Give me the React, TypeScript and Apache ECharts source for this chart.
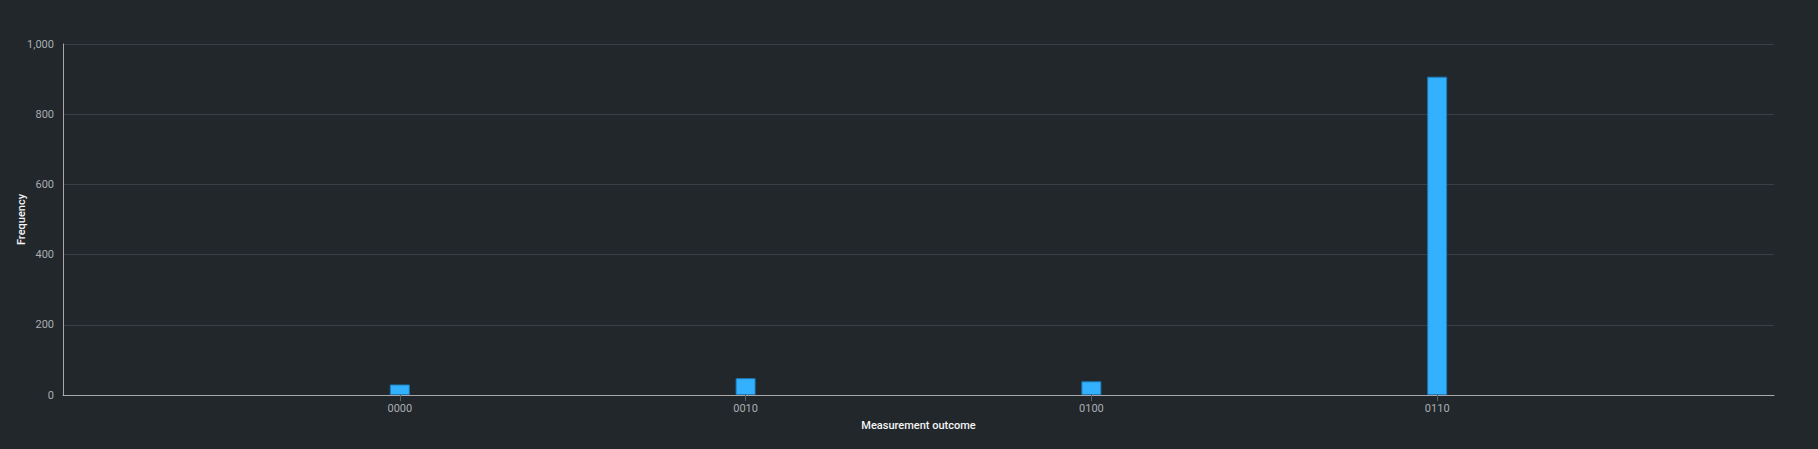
import { useEffect, useRef } from 'react'
import * as echarts from 'echarts'

const outcomes = ['0000', '0010', '0100', '0110']
const counts = [30, 48, 39, 907]
const yTicks = [0, 200, 400, 600, 800, 1000]
// outer padding of the outcome scale, in fractions of one step
const edgePad = 0.974

const THEME = {
  bg: '#22272b',
  grid: '#393f44',
  axis: '#a8a8a8',
  tick: '#5a6066',
  label: '#a8aeb3',
  title: '#f4f4f4',
  bar: '#33b1ff',
  barBorder: '#1d78b5',
}

const FONT = 'Roboto, "Noto Sans", sans-serif'

export default function App() {
  const chartRef = useRef<HTMLDivElement | null>(null)

  useEffect(() => {
    document.body.style.margin = '0'
    document.body.style.background = THEME.bg
    if (!chartRef.current) return
    const chart = echarts.init(chartRef.current, undefined, { renderer: 'svg' })
    const positions = outcomes.map((_, i) => i)

    chart.setOption({
      animation: false,
      backgroundColor: THEME.bg,
      textStyle: { fontFamily: FONT },
      grid: { left: 63, right: 44, top: 44, bottom: 54, outerBoundsMode: 'none' },
      xAxis: {
        type: 'value',
        min: -edgePad,
        max: outcomes.length - 1 + edgePad,
        name: 'Measurement outcome',
        nameLocation: 'middle',
        nameGap: 25,
        nameMoveOverlap: false,
        nameTextStyle: { color: THEME.title, fontSize: 11, fontWeight: 500, fontFamily: FONT },
        axisLine: { onZero: false, lineStyle: { color: THEME.axis, width: 1 } },
        axisTick: {
          show: true,
          length: 6,
          lineStyle: { color: THEME.tick },
          customValues: positions,
        },
        axisLabel: {
          color: THEME.label,
          fontSize: 11,
          margin: 8,
          fontFamily: FONT,
          customValues: positions,
          formatter: (v: number) => outcomes[Math.round(v)] ?? '',
        },
        splitLine: { show: false },
      },
      yAxis: {
        type: 'value',
        min: yTicks[0],
        max: yTicks[yTicks.length - 1],
        interval: yTicks[1] - yTicks[0],
        name: 'Frequency',
        nameLocation: 'middle',
        nameGap: 36,
        nameMoveOverlap: false,
        nameTextStyle: { color: THEME.title, fontSize: 11, fontWeight: 500, fontFamily: FONT },
        axisLine: { show: true, onZero: false, lineStyle: { color: THEME.axis, width: 1 } },
        axisTick: { show: false },
        axisLabel: {
          color: THEME.label,
          fontSize: 11,
          margin: 9,
          fontFamily: FONT,
          formatter: (v: number) => v.toLocaleString('en-US'),
        },
        splitLine: { lineStyle: { color: THEME.grid, width: 1 } },
      },
      series: [{
        type: 'bar',
        data: counts.map((c, i) => [positions[i], c]),
        barWidth: 20,
        itemStyle: { color: THEME.bar, borderColor: THEME.barBorder, borderWidth: 1 },
      }],
    })

    const handleResize = () => chart.resize()
    window.addEventListener('resize', handleResize)
    return () => {
      window.removeEventListener('resize', handleResize)
      chart.dispose()
    }
  }, [])

  return <div ref={chartRef} style={{ width: 1818, height: 449 }} />
}
